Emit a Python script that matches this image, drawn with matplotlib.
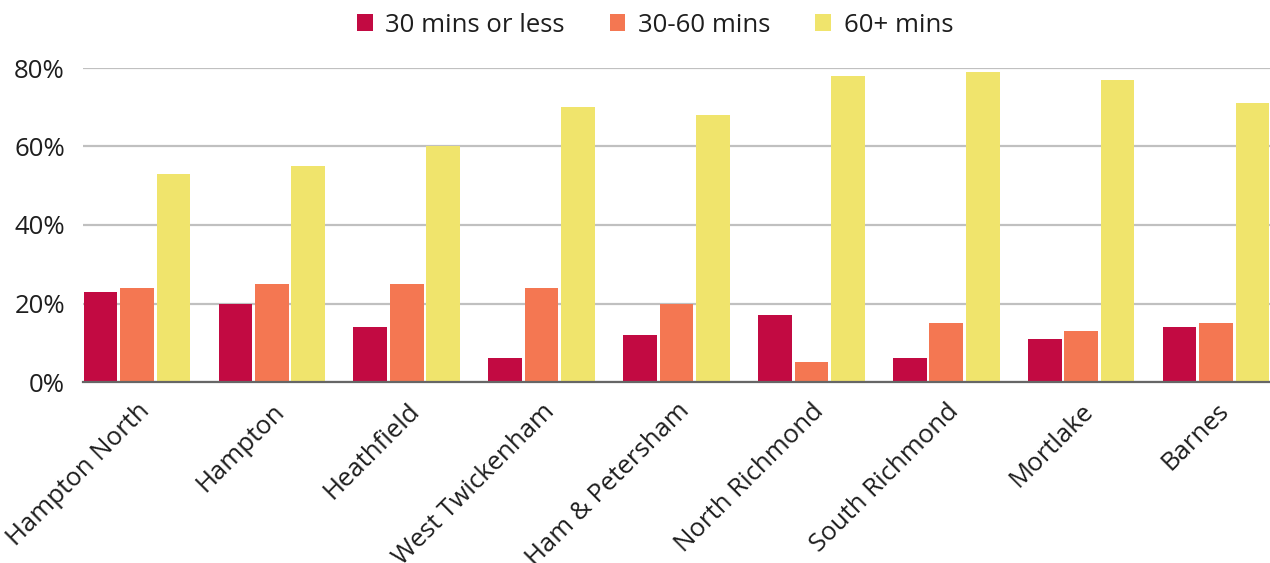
import matplotlib
matplotlib.use("Agg")
import matplotlib.pyplot as plt
import numpy as np

wards = ["Hampton North", "Hampton", "Heathfield", "West Twickenham",
         "Ham & Petersham", "North Richmond", "South Richmond", "Mortlake", "Barnes"]
series_names = ["30 mins or less", "30-60 mins", "60+ mins"]
under_30 = [23, 20, 14, 6, 12, 17, 6, 11, 14]
between_30_60 = [24, 25, 25, 24, 20, 5, 15, 13, 15]
over_60 = [53, 55, 60, 70, 68, 78, 79, 77, 71]
y_ticks = [0, 20, 40, 60, 80]

colors = ["#C20A42", "#F47752", "#F0E46C"]
text_color = "#1E1E1E"

plt.rcParams["font.family"] = ["Open Sans", "DejaVu Sans"]

fig = plt.figure(figsize=(12.7, 5.63), dpi=100)
ax = fig.add_axes([83 / 1270, 181 / 563, 1 - 83 / 1270, (382 - 68) / 563])

x = np.arange(len(wards))
step = 0.27
width = 0.25
for i, (vals, name, c) in enumerate(zip([under_30, between_30_60, over_60], series_names, colors)):
    ax.bar(x + (i - 1) * step, vals, width=width, color=c, label=name, zorder=3)

ax.set_xlim(-0.4, 8.4)
ax.set_ylim(0, 80)
ax.set_yticks(y_ticks)
ax.set_yticklabels([f"{v}%" for v in y_ticks], fontsize=18.5, color=text_color)
ax.yaxis.grid(True, color="#C0C0C0", linewidth=1.6, zorder=0)
ax.tick_params(axis="y", length=0, pad=13)
ax.tick_params(axis="x", length=0, pad=12)
ax.set_xticks(x)
ax.set_xticklabels(wards, rotation=45, ha="right", rotation_mode="anchor",
                   fontsize=18.5, color=text_color)
for s in ["top", "right", "left"]:
    ax.spines[s].set_visible(False)
ax.spines["bottom"].set_color("#666666")
ax.spines["bottom"].set_linewidth(1.6)
ax.spines["bottom"].set_zorder(4)

ax.legend(loc="center", bbox_to_anchor=(0.482, 1 + (68 - 25) / 314),
          ncol=3, frameon=False, fontsize=18.5, handlelength=0.6, handleheight=0.6,
          columnspacing=1.75, handletextpad=0.5, labelcolor=text_color)

fig.savefig("out.png", dpi=100)
